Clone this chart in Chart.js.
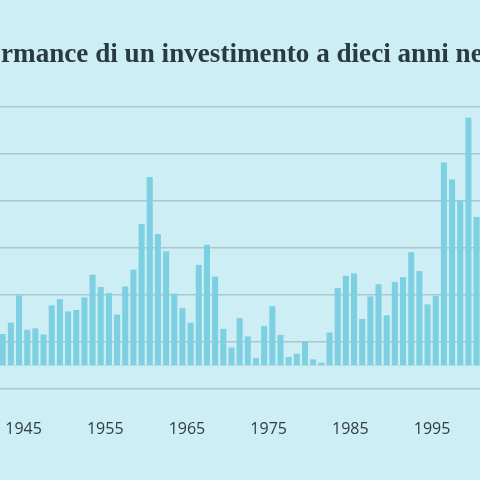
<!DOCTYPE html>
<html><head><meta charset="utf-8">
<script src="https://cdn.jsdelivr.net/npm/chart.js@4"></script>
<style>html,body{margin:0;padding:0;background:#cdeef4}#w{width:480px;height:480px}</style>
</head><body><div id="w"><canvas id="c"></canvas></div>
<script>
const titleText = "Performance di un investimento a dieci anni nel";
const firstYear = 1942;
const values = [0.67,0.91,1.49,0.76,0.79,0.66,1.28,1.41,1.15,1.18,1.45,1.93,1.67,1.54,1.08,1.68,2.04,3.01,4.01,2.80,2.43,1.53,1.22,0.91,2.14,2.57,1.89,0.78,0.38,1.01,0.62,0.16,0.84,1.26,0.65,0.18,0.25,0.50,0.13,0.06,0.70,1.65,1.91,1.96,0.99,1.47,1.73,1.07,1.78,1.88,2.41,2.01,1.30,1.48,4.32,3.96,3.51,5.27,3.16];
const years = values.map((v,i)=>firstYear+i);
const tickYears = [1945,1955,1965,1975,1985,1995];
const gridValues = [-0.5,0,0.5,1.5,2.5,3.5,4.5,5.5];

const titlePlugin = {id:'t', afterDraw(ch){
  const ctx = ch.ctx; ctx.save();
  ctx.fillStyle = '#2b3a40';
  let fs = 28;
  ctx.font = `bold ${fs}px "Liberation Serif", serif`;
  const vis = ctx.measureText("rmance di un investimento a dieci anni ne").width;
  fs = fs*482/vis;
  ctx.font = `bold ${fs}px "Liberation Serif", serif`;
  const off = ctx.measureText("Perfo").width;
  ctx.textBaseline='alphabetic';
  ctx.fillText(titleText, 1-off, 62);
  ctx.restore();
}};

new Chart(document.getElementById('c'), {
  type:'bar',
  data:{datasets:[{data:years.map((y,i)=>({x:y,y:values[i]})),backgroundColor:'#7dd0e1',barPercentage:0.74,categoryPercentage:1}]},
  options:{responsive:true,maintainAspectRatio:false,animation:false,
    layout:{padding:{top:107,bottom:39,left:0,right:0}},
    plugins:{legend:{display:false},tooltip:{enabled:false}},
    scales:{
      x:{type:'linear',min:1941.67,max:2000.42,offset:false,
        afterFit(s){s.height=52;s.paddingLeft=0;s.paddingRight=0;},
        afterBuildTicks(s){s.ticks=tickYears.map(v=>({value:v-0.45}));},
        ticks:{callback:(v)=>String(Math.round(v+0.45)),color:'#2f3d44',font:{family:'"Open Sans", sans-serif',size:16},padding:31,autoSkip:false,maxRotation:0},
        grid:{display:false,drawTicks:false},border:{display:false}},
      y:{min:-0.5,max:5.5,
        afterFit(s){s.width=0;},
        afterBuildTicks(s){s.ticks=gridValues.map(v=>({value:v}));},
        ticks:{display:false},
        grid:{color:(c)=>c.tick&&c.tick.value===0?'#b8d9df':'#a8c8ce',lineWidth:(c)=>c.tick&&c.tick.value===0?1:1.5,drawTicks:false},
        border:{display:false}}
    }},
  plugins:[titlePlugin]
});
</script></body></html>
